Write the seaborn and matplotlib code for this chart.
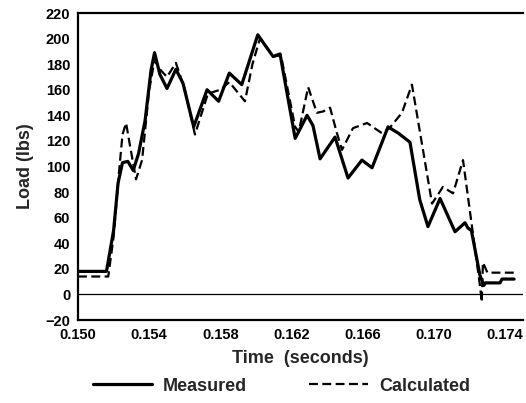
import numpy as np
import pandas as pd
import seaborn as sns
import matplotlib
matplotlib.use("Agg")
import matplotlib.pyplot as plt
from matplotlib.ticker import MultipleLocator, FormatStrFormatter
from matplotlib.lines import Line2D

# ---- data ----
t_measured = [0.1500, 0.1516, 0.1520, 0.15225, 0.1525, 0.1528, 0.1531, 0.1534,
              0.15377, 0.1541, 0.1543, 0.1546, 0.1550, 0.1555, 0.1559, 0.1565,
              0.15725, 0.1579, 0.1585, 0.1592, 0.1601, 0.1605, 0.16096, 0.16135,
              0.1622, 0.16287, 0.1632, 0.1636, 0.16444, 0.16517, 0.16595, 0.16652,
              0.16742, 0.1680, 0.16865, 0.1692, 0.16966, 0.17034, 0.17118, 0.17174,
              0.1719, 0.1721, 0.17258, 0.1728, 0.17287, 0.17371, 0.17382, 0.1745]
load_measured = [18, 18, 50, 87, 103, 104, 97, 110,
                 136, 175, 189, 172, 161, 176, 165, 131,
                 160, 151, 173, 164, 203, 195, 186, 188,
                 122, 140, 132, 106, 123, 91, 105, 99,
                 131, 126, 119, 74, 53, 75, 49, 56,
                 52, 50, 15, 7, 9, 9, 12, 12]

t_calculated = [0.1500, 0.1517, 0.1520, 0.1523, 0.1525, 0.1527, 0.1529, 0.15326,
                0.1536, 0.1540, 0.1543, 0.1546, 0.1550, 0.1555, 0.1560, 0.15657,
                0.1573, 0.1580, 0.1585, 0.15938, 0.1598, 0.16022, 0.1606, 0.1610,
                0.1614, 0.1622, 0.1624, 0.16293, 0.16342, 0.16377, 0.16416, 0.16455,
                0.16483, 0.16545, 0.16624, 0.16708, 0.1675, 0.1682, 0.16876, 0.16989,
                0.1705, 0.17107, 0.17163, 0.1726, 0.17268, 0.17275, 0.1730, 0.1745]
load_calculated = [14, 14, 45, 95, 125, 134, 118, 90,
                   105, 160, 183, 176, 170, 181, 160, 125,
                   157, 160, 166, 151, 180, 200, 193, 186,
                   187, 131, 127, 162, 142, 143, 146, 126,
                   113, 130, 134, 126, 130, 142, 164, 71,
                   84, 79, 105, 5, -6, 25, 17, 17]

series_names = ["Measured", "Calculated"]
x_ticks = [0.150, 0.154, 0.158, 0.162, 0.166, 0.170, 0.174]
y_ticks = list(range(-20, 221, 20))

df = pd.concat([
    pd.DataFrame({"Time": t_measured, "Load": load_measured, "Series": series_names[0]}),
    pd.DataFrame({"Time": t_calculated, "Load": load_calculated, "Series": series_names[1]}),
], ignore_index=True)

sns.set_style("white")
plt.rcParams["font.family"] = ["Liberation Sans", "DejaVu Sans"]
plt.rcParams["font.weight"] = "bold"

fig = plt.figure(figsize=(5.26, 4.03), dpi=100)
ax = fig.add_axes([78 / 526, 1 - 320 / 403, (523 - 78) / 526, (320 - 13) / 403])

sns.lineplot(data=df, x="Time", y="Load", style="Series", sort=False,
             estimator=None, color="black", ax=ax, legend=False,
             dashes={"Measured": "", "Calculated": (4, 2)})
for line, lw in zip(ax.lines, [2.3, 1.6]):
    line.set_linewidth(lw)
    line.set_solid_joinstyle("round")
    line.set_dash_joinstyle("round")

ax.axhline(0, color="black", lw=0.9)

ax.set_xlim(0.150, 0.175)
ax.set_ylim(-20, 220)
ax.set_xticks(x_ticks)
ax.xaxis.set_minor_locator(MultipleLocator(0.002))
ax.set_yticks(y_ticks)
ax.xaxis.set_major_formatter(FormatStrFormatter("%.3f"))
ax.set_yticklabels([f"{v}".replace("-", "\u2212") for v in y_ticks])

for s in ["top", "left", "bottom"]:
    ax.spines[s].set_visible(True)
    ax.spines[s].set_color("black")
    ax.spines[s].set_linewidth(1.6)
ax.spines["right"].set_visible(False)

ax.tick_params(axis="both", which="both", direction="inout", colors="black",
               labelsize=10.5, width=1.2)
ax.tick_params(axis="both", which="major", length=7)
ax.tick_params(axis="x", which="minor", length=6)
ax.tick_params(axis="x", pad=2)
ax.tick_params(axis="y", pad=2)
for lab in ax.get_xticklabels() + ax.get_yticklabels():
    lab.set_fontweight("bold")

ax.set_xlabel("Time  (seconds)", fontsize=13, fontweight="bold", labelpad=6)
ax.set_ylabel("Load (lbs)", fontsize=13, fontweight="bold", labelpad=8)

handles = [Line2D([], [], color="black", lw=2.3),
           Line2D([], [], color="black", lw=1.6, dashes=(4, 2))]
fig.legend(handles, series_names, loc="center", bbox_to_anchor=(0.535, 0.042),
           ncol=2, frameon=False, handlelength=3.3, handletextpad=0.6,
           columnspacing=3.4, prop={"weight": "bold", "size": 13})

fig.savefig("out.png", dpi=100)
